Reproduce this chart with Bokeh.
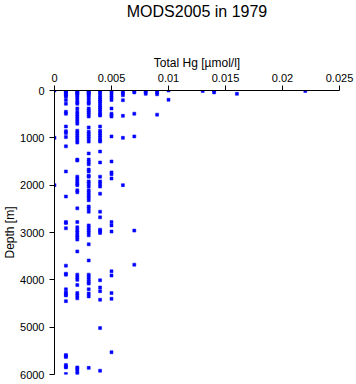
from bokeh.plotting import figure
from bokeh.models import Range1d, FixedTicker, ColumnDataSource, Title
from bokeh.embed import file_html
from bokeh.resources import INLINE

# Total Hg concentration levels [umol/l] and the sample depths [m] at each level
conc_levels = [0.0, 0.001, 0.002, 0.003, 0.004, 0.005, 0.006, 0.007,
               0.008, 0.009, 0.010, 0.013, 0.014, 0.016, 0.022]

depth_0000 = [0, 1000, 2000]
depth_0010 = [10, 30, 50, 75, 100, 125, 200, 280, 450, 490, 760, 860, 900, 985,
              1180, 1710, 2240, 2780, 2800, 2910, 3700, 3870, 3890, 4200, 4270,
              4300, 4330, 4450, 5590, 5610, 5630, 5800, 5830, 5850, 5990]
depth_0020 = [10, 30, 50, 75, 100, 150, 200, 250, 280, 380, 450, 500, 550, 600,
              650, 700, 850, 900, 950, 1000, 1050, 1100, 1460, 1480, 1820, 1870,
              1920, 1970, 2000, 2110, 2150, 2490, 2780, 2890, 2950, 3000, 3060,
              3100, 3150, 3400, 3890, 3950, 4000, 4110, 4280, 4330, 4390, 5850,
              5880, 5930, 5980]
depth_0030 = [10, 30, 50, 75, 100, 150, 200, 250, 280, 380, 420, 460, 500, 550,
              780, 870, 920, 970, 1020, 1080, 1330, 1460, 1510, 1560, 1670, 1710,
              1800, 1820, 1920, 1970, 2030, 2110, 2160, 2210, 2260, 2320, 2450,
              2500, 2560, 2850, 2900, 2950, 3000, 3060, 3250, 3590, 3890, 3940,
              3990, 4040, 4080, 4200, 4290, 4350, 5860]
depth_0040 = [10, 50, 100, 150, 190, 230, 270, 320, 360, 400, 450, 500, 530, 760,
              850, 900, 950, 1000, 1050, 1080, 1290, 1520, 1820, 1920, 1970, 2030,
              2180, 2560, 2680, 2940, 2970, 3010, 4010, 4160, 4240, 4420, 5020,
              5920]
depth_0050 = [10, 50, 100, 150, 200, 380, 490, 520, 550, 970, 1500, 1730, 1770,
              1860, 2780, 2850, 2980, 3820, 3910, 4280, 4400, 5530]
depth_0060 = [20, 60, 100, 205, 535, 1000, 2000]
depth_0070 = [10, 40, 490, 970, 2960, 3680]
depth_0080 = [0, 30, 70]
depth_0090 = [0, 40, 80, 510]
depth_0100 = [0, 195]
depth_0130 = [10]
depth_0140 = [0, 40]
depth_0160 = [70]
depth_0220 = [10]

depth_lists = [depth_0000, depth_0010, depth_0020, depth_0030, depth_0040,
               depth_0050, depth_0060, depth_0070, depth_0080, depth_0090,
               depth_0100, depth_0130, depth_0140, depth_0160, depth_0220]

x_ticks = [0, 0.005, 0.01, 0.015, 0.02, 0.025]
x_tick_labels = ["0", "0.005", "0.01", "0.015", "0.02", "0.025"]
y_ticks = [0, 1000, 2000, 3000, 4000, 5000, 6000]
y_tick_labels = ["0", "1000", "2000", "3000", "4000", "5000", "6000"]

xs, ys = [], []
for c, ds in zip(conc_levels, depth_lists):
    for d in ds:
        xs.append(c)
        ys.append(d)
source = ColumnDataSource(data=dict(hg=xs, depth=ys))

FONT = "Liberation Sans"

p = figure(width=356, height=384, title=None,
           output_backend="svg", toolbar_location=None,
           x_axis_location="above",
           x_range=Range1d(0, 0.025), y_range=Range1d(6000, 0),
           min_border_left=53, min_border_right=17,
           min_border_top=90, min_border_bottom=10)

p.outline_line_color = None
p.xgrid.visible = False
p.ygrid.visible = False
p.background_fill_color = "white"
p.border_fill_color = "white"

for ax in (p.xaxis[0], p.yaxis[0]):
    ax.major_tick_in = 0
    ax.major_tick_out = 5
    ax.minor_tick_in = 0
    ax.minor_tick_out = 0
    ax.axis_line_color = "black"
    ax.major_tick_line_color = "black"
    ax.major_label_text_font = FONT
    ax.major_label_text_font_size = "11px"
    ax.major_label_text_color = "black"
    ax.axis_label_text_font = FONT
    ax.axis_label_text_font_size = "12px"
    ax.axis_label_text_font_style = "normal"
    ax.axis_label_text_color = "black"

xa = p.xaxis[0]
xa.ticker = FixedTicker(ticks=x_ticks)
xa.major_label_overrides = dict(zip(x_ticks, x_tick_labels))
xa.axis_label = "Total Hg [µmol/l]"
xa.major_label_standoff = 4
xa.axis_label_standoff = 1

ya = p.yaxis[0]
ya.ticker = FixedTicker(ticks=y_ticks)
ya.major_label_overrides = dict(zip(y_ticks, y_tick_labels))
ya.axis_label = "Depth [m]"
ya.major_label_standoff = 5
ya.axis_label_standoff = 0

# spacer between axis label and the title, then the title itself (outermost)
p.add_layout(Title(text=" ", text_font_size="1px", standoff=30), "above")
p.add_layout(Title(text="MODS2005 in 1979", align="center", text_font=FONT,
                   text_font_size="16px", text_font_style="normal",
                   text_color="black", standoff=0), "above")

p.scatter("hg", "depth", source=source, marker="square", size=3,
          fill_color="#0000ff", line_color="#0000ff", line_width=0.5)

open("out.html", "w").write(file_html(p, INLINE))
